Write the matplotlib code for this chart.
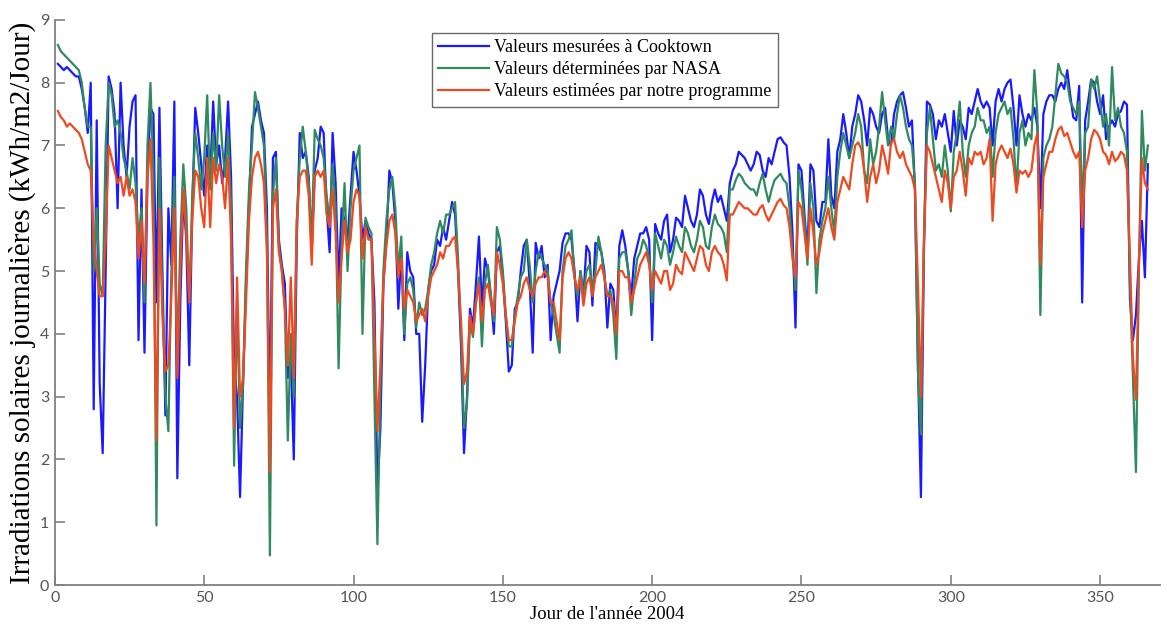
import matplotlib
matplotlib.use("Agg")
import matplotlib.pyplot as plt
import numpy as np

# Day of year 2004 (leap year)
days = np.arange(1, 367)

# Daily solar irradiation, kWh/m2/day
mesure_cooktown = [
    8.3, 8.25, 8.2, 8.25, 8.2, 8.15, 8.1, 8.1, 7.9, 7.6,          # 1-10
    7.2, 8.0, 2.8, 7.4, 3.2, 2.1, 5.0, 8.1, 7.9, 7.5,             # 11-20
    6.0, 8.0, 7.0, 6.5, 7.3, 7.7, 7.8, 3.9, 6.3, 3.7,             # 21-30
    6.5, 7.6, 7.5, 4.5, 7.6, 5.0, 2.7, 6.0, 5.1, 7.7,             # 31-40
    1.7, 4.5, 6.2, 5.5, 3.5, 6.0, 7.6, 7.2, 6.7, 6.2,             # 41-50
    7.0, 6.5, 7.7, 6.7, 7.0, 6.4, 6.8, 7.7, 6.5, 3.5,             # 51-60
    3.0, 1.4, 3.2, 4.8, 6.1, 7.3, 7.5, 7.7, 7.4, 7.2,             # 61-70
    6.0, 2.5, 6.8, 6.9, 5.5, 5.1, 4.8, 3.3, 3.6, 2.0,             # 71-80
    5.5, 7.2, 6.8, 6.9, 6.5, 5.3, 6.6, 6.8, 7.3, 7.2,             # 81-90
    6.0, 5.3, 7.2, 6.4, 4.8, 6.0, 5.8, 5.5, 6.2, 6.9,             # 91-100
    6.6, 6.2, 5.5, 5.8, 5.6, 5.5, 4.5, 1.5, 2.5, 4.8,             # 101-110
    5.5, 6.6, 6.4, 5.8, 4.4, 5.3, 3.9, 5.3, 5.0, 4.9,             # 111-120
    4.0, 4.0, 2.6, 3.5, 4.7, 5.0, 5.1, 5.5, 5.4, 5.7,             # 121-130
    5.5, 5.8, 6.1, 5.9, 5.0, 3.8, 2.1, 3.0, 4.4, 4.1,             # 131-140
    4.8, 5.55, 4.4, 5.2, 5.0, 4.6, 4.0, 5.3, 5.4, 4.9,            # 141-150
    4.2, 3.4, 3.5, 4.4, 4.5, 5.0, 5.4, 5.5, 4.8, 3.7,             # 151-160
    5.45, 5.2, 5.4, 4.9, 5.1, 3.9, 4.6, 4.8, 5.0, 5.45,           # 161-170
    5.6, 5.6, 5.5, 5.0, 4.2, 5.0, 4.6, 5.4, 5.3, 4.45,            # 171-180
    5.45, 5.4, 5.3, 5.0, 4.1, 4.8, 4.7, 4.0, 5.4, 5.65,           # 181-190
    5.4, 5.0, 4.6, 5.2, 5.4, 5.6, 5.6, 5.7, 5.5, 3.9,             # 191-200
    5.75, 5.6, 5.5, 5.8, 5.9, 5.3, 5.5, 5.85, 5.8, 5.7,           # 201-210
    6.2, 6.0, 5.8, 5.7, 5.9, 6.3, 6.2, 5.9, 5.75, 6.1,            # 211-220
    6.3, 6.1, 6.2, 6.0, 5.8, 6.4, 6.6, 6.7, 6.9, 6.85,            # 221-230
    6.8, 6.7, 6.6, 6.7, 6.9, 6.85, 6.6, 6.5, 6.8, 6.7,            # 231-240
    6.9, 7.1, 7.13, 7.05, 7.0, 6.5, 5.6, 4.1, 6.7, 6.6,           # 241-250
    5.9, 5.3, 6.7, 6.6, 5.8, 5.7, 6.1, 6.1, 7.1, 6.2,             # 251-260
    6.0, 6.9, 7.1, 7.5, 7.2, 6.8, 7.3, 7.5, 7.8, 7.7,             # 261-270
    7.4, 7.0, 7.6, 7.5, 7.3, 7.2, 7.5, 7.6, 7.1, 7.0,             # 271-280
    7.5, 7.7, 7.8, 7.85, 7.6, 7.3, 7.4, 6.3, 3.5, 1.4,            # 281-290
    5.3, 7.7, 7.65, 7.5, 7.1, 7.4, 7.3, 7.5, 7.2, 6.9,            # 291-300
    7.55, 7.0, 7.4, 7.3, 7.1, 7.6, 7.5, 7.7, 7.9, 7.7,            # 301-310
    7.6, 7.7, 7.6, 7.0, 7.7, 7.9, 7.7, 7.9, 8.0, 8.05,            # 311-320
    7.6, 7.0, 7.8, 7.5, 7.3, 7.5, 7.4, 7.6, 7.3, 6.0,             # 321-330
    7.5, 7.7, 7.8, 7.8, 7.7, 7.9, 8.0, 7.9, 8.2, 7.8,             # 331-340
    7.45, 7.4, 7.95, 4.5, 7.4, 7.7, 8.05, 8.0, 7.7, 7.5,          # 341-350
    7.8, 7.1, 7.3, 7.4, 7.3, 7.5, 7.55, 7.7, 7.65, 4.55,          # 351-360
    3.9, 4.3, 5.2, 5.8, 4.9, 6.7,                                 # 361-366
]

nasa = [
    8.6, 8.5, 8.45, 8.4, 8.35, 8.3, 8.25, 8.2, 8.0, 7.6,          # 1-10
    7.3, 7.3, 5.0, 6.0, 4.8, 4.6, 7.0, 8.0, 7.8, 7.3,             # 11-20
    7.4, 7.2, 6.8, 6.6, 6.3, 6.8, 6.4, 5.5, 6.0, 4.5,             # 21-30
    7.0, 8.0, 6.5, 0.95, 6.8, 4.5, 3.0, 2.45, 5.0, 6.5,           # 31-40
    3.5, 5.5, 6.7, 6.0, 4.5, 6.2, 7.2, 6.8, 6.3, 6.8,             # 41-50
    7.8, 6.3, 7.2, 6.6, 7.8, 7.0, 6.5, 7.2, 6.0, 1.9,             # 51-60
    4.5, 2.5, 3.2, 5.0, 6.3, 7.0, 7.85, 7.6, 7.3, 7.0,            # 61-70
    5.5, 0.47, 6.2, 6.8, 5.4, 5.0, 4.4, 2.3, 4.0, 3.0,            # 71-80
    5.8, 6.8, 7.3, 6.9, 6.4, 5.5, 7.25, 7.1, 7.0, 6.8,            # 81-90
    6.2, 5.8, 6.7, 6.0, 3.45, 5.4, 6.4, 5.0, 6.0, 6.6,            # 91-100
    6.8, 7.0, 4.0, 5.85, 5.7, 5.6, 3.0, 0.65, 3.2, 5.0,           # 101-110
    5.8, 6.3, 6.5, 6.0, 5.0, 5.55, 4.0, 4.8, 4.9, 4.7,            # 111-120
    4.1, 4.5, 4.3, 4.4, 4.7, 5.1, 5.3, 5.6, 5.8, 5.6,             # 121-130
    5.9, 5.9, 6.0, 6.1, 5.2, 4.0, 2.5, 2.9, 4.2, 3.95,            # 131-140
    4.5, 4.9, 3.8, 4.8, 5.1, 4.6, 4.2, 5.7, 5.5, 5.0,             # 141-150
    4.3, 3.8, 3.8, 4.3, 4.6, 4.9, 5.0, 5.5, 5.1, 4.5,             # 151-160
    5.0, 5.3, 5.2, 5.1, 5.0, 4.5, 4.3, 4.0, 3.7, 5.0,             # 161-170
    5.4, 5.5, 5.65, 4.9, 4.6, 5.0, 4.6, 5.0, 5.1, 4.7,            # 171-180
    5.0, 5.55, 5.3, 4.9, 4.6, 4.7, 4.3, 3.6, 5.2, 5.3,            # 181-190
    5.3, 5.0, 4.3, 4.8, 5.2, 5.3, 5.5, 5.4, 5.2, 4.5,             # 191-200
    5.6, 5.4, 5.2, 5.5, 5.4, 5.1, 5.3, 5.55, 5.4, 5.3,            # 201-210
    5.7, 5.6, 5.4, 5.3, 5.5, 5.8, 5.7, 5.4, 5.35, 5.7,            # 211-220
    5.9, 5.75, 5.7, 5.6, 5.3, 6.3, 6.3, 6.45, 6.55, 6.5,          # 221-230
    6.4, 6.35, 6.3, 6.3, 6.2, 6.4, 6.55, 6.3, 6.1, 6.3,           # 231-240
    6.45, 6.5, 6.55, 6.45, 6.4, 6.0, 5.3, 4.7, 6.6, 6.3,          # 241-250
    5.8, 5.1, 6.4, 6.0, 4.65, 5.5, 5.8, 6.0, 6.5, 6.0,            # 251-260
    5.6, 6.5, 6.9, 7.2, 7.0, 6.8, 7.0, 7.2, 7.5, 7.3,             # 261-270
    6.6, 6.4, 7.1, 6.7, 6.9, 7.3, 7.85, 7.4, 7.0, 7.3,            # 271-280
    7.1, 7.5, 7.8, 7.6, 7.3, 7.1, 7.0, 6.4, 3.4, 2.4,             # 281-290
    5.5, 7.2, 7.6, 7.1, 6.6, 6.7, 6.5, 7.0, 6.6, 5.95,            # 291-300
    6.9, 7.2, 7.7, 6.9, 6.5, 7.0, 7.2, 7.3, 7.6, 7.4,             # 301-310
    7.4, 7.2, 7.3, 6.5, 7.2, 7.5, 7.6, 7.7, 7.5, 7.6,             # 311-320
    7.1, 6.3, 7.2, 7.4, 7.0, 7.2, 7.1, 8.2, 7.5, 4.3,             # 321-330
    6.8, 7.0, 7.1, 7.3, 7.8, 8.3, 8.15, 8.1, 8.0, 7.7,            # 331-340
    7.6, 7.5, 7.7, 6.0, 7.2, 7.3, 8.05, 7.9, 8.1, 7.7,            # 341-350
    7.3, 7.5, 7.0, 8.25, 7.4, 7.6, 7.3, 7.2, 6.9, 4.8,            # 351-360
    3.3, 1.8, 5.0, 7.55, 6.6, 7.0,                                # 361-366
]

programme = [
    7.55, 7.45, 7.4, 7.3, 7.35, 7.3, 7.25, 7.2, 7.1, 6.9,         # 1-10
    6.7, 6.6, 5.5, 5.0, 4.6, 4.6, 5.5, 7.0, 6.8, 6.6,             # 11-20
    6.4, 6.5, 6.2, 6.5, 6.2, 6.3, 6.1, 5.2, 5.8, 4.8,             # 21-30
    6.5, 7.1, 5.5, 2.3, 6.0, 4.3, 3.4, 3.5, 4.6, 6.0,             # 31-40
    3.3, 5.0, 6.3, 5.6, 4.5, 5.8, 6.6, 6.5, 6.0, 5.7,             # 41-50
    6.8, 5.7, 6.8, 6.4, 6.7, 6.5, 6.0, 6.8, 5.5, 2.5,             # 51-60
    4.9, 3.0, 3.3, 4.5, 5.8, 6.5, 6.8, 6.9, 6.7, 6.4,             # 61-70
    5.3, 1.8, 6.0, 6.3, 5.3, 5.0, 4.4, 3.5, 4.9, 3.3,             # 71-80
    5.8, 6.5, 6.6, 6.6, 6.2, 5.1, 6.5, 6.6, 6.5, 6.6,             # 81-90
    5.9, 5.7, 6.3, 5.6, 4.5, 5.2, 5.8, 5.3, 5.5, 6.1,             # 91-100
    6.3, 6.2, 5.2, 5.7, 5.5, 5.5, 4.0, 2.45, 3.5, 4.8,            # 101-110
    5.4, 5.8, 5.9, 5.6, 4.9, 5.2, 4.4, 4.7, 4.6, 4.5,             # 111-120
    4.2, 4.3, 4.4, 4.2, 4.6, 4.9, 5.0, 5.1, 5.3, 5.2,             # 121-130
    5.4, 5.4, 5.5, 5.55, 5.0, 4.2, 3.2, 3.4, 4.3, 4.0,            # 131-140
    4.5, 4.8, 4.2, 4.7, 4.8, 4.5, 4.3, 5.3, 5.1, 4.8,             # 141-150
    4.3, 3.9, 3.9, 4.2, 4.5, 4.6, 4.8, 4.9, 4.7, 4.6,             # 151-160
    4.8, 4.9, 4.9, 5.0, 4.9, 4.5, 4.5, 4.2, 3.9, 4.9,             # 161-170
    5.2, 5.3, 5.2, 4.9, 4.7, 4.9, 4.45, 4.8, 4.9, 4.6,            # 171-180
    4.9, 5.0, 5.1, 4.9, 4.6, 4.6, 4.5, 4.0, 5.0, 5.0,             # 181-190
    4.9, 4.9, 4.5, 4.7, 4.9, 5.1, 5.2, 5.3, 5.1, 4.7,             # 191-200
    5.0, 4.9, 4.8, 5.0, 5.0, 4.7, 4.8, 5.1, 5.0, 4.95,            # 201-210
    5.3, 5.2, 5.1, 5.0, 5.2, 5.4, 5.35, 5.1, 5.0, 5.3,            # 211-220
    5.4, 5.3, 5.25, 5.1, 4.85, 5.9, 5.9, 6.0, 6.1, 6.05,          # 221-230
    6.0, 6.0, 5.95, 5.9, 5.9, 6.0, 6.05, 5.9, 5.8, 5.9,           # 231-240
    6.0, 6.1, 6.15, 6.05, 6.0, 5.7, 5.2, 4.9, 6.1, 6.0,           # 241-250
    5.6, 5.2, 6.0, 5.6, 5.1, 5.3, 5.6, 5.8, 6.0, 5.7,             # 251-260
    5.5, 6.1, 6.3, 6.5, 6.4, 6.3, 6.7, 7.0, 7.05, 6.95,           # 261-270
    6.6, 6.1, 6.5, 6.7, 6.4, 6.6, 7.0, 6.8, 6.55, 7.05,           # 271-280
    7.1, 6.9, 6.8, 6.9, 6.7, 6.6, 6.5, 6.3, 4.8, 3.0,             # 281-290
    5.4, 7.0, 6.9, 6.7, 6.5, 6.3, 6.1, 6.6, 6.4, 6.0,             # 291-300
    6.5, 6.6, 6.9, 6.6, 6.2, 6.8, 6.7, 6.9, 6.85, 6.9,            # 301-310
    6.7, 6.8, 7.1, 5.8, 6.7, 6.9, 7.0, 6.9, 6.8, 6.95,            # 311-320
    6.7, 6.25, 6.6, 6.55, 6.6, 6.5, 6.6, 7.0, 7.2, 5.1,           # 321-330
    6.5, 6.7, 6.9, 6.9, 7.1, 7.25, 7.3, 7.15, 7.2, 7.05,          # 331-340
    6.9, 6.8, 6.9, 5.7, 6.6, 6.8, 7.1, 7.25, 7.2, 7.1,            # 341-350
    6.9, 6.85, 6.7, 6.9, 6.75, 6.8, 6.9, 6.85, 6.6, 5.2,          # 351-360
    3.6, 2.95, 5.1, 6.8, 6.4, 6.3,                                # 361-366
]

x_ticks = [0, 50, 100, 150, 200, 250, 300, 350]
y_ticks = list(range(10))

fig = plt.figure(figsize=(11.68, 6.30), dpi=100)
ax = fig.add_axes([0.047, 0.0714, 0.946, 0.897])

ax.plot(days, mesure_cooktown, color="#1a1aff", lw=1.6,
        label="Valeurs mesurées à Cooktown")
ax.plot(days, nasa, color="#2f8a5e", lw=1.6,
        label="Valeurs déterminées par NASA")
ax.plot(days, programme, color="#ee4a22", lw=1.6,
        label="Valeurs estimées par notre programme")

ax.set_xlim(0, 370)
ax.set_ylim(0, 9)
ax.set_xticks(x_ticks)
ax.set_yticks(y_ticks)

for side in ("top", "right"):
    ax.spines[side].set_visible(False)
for side in ("left", "bottom"):
    ax.spines[side].set_color("#808080")
    ax.spines[side].set_linewidth(1.3)

ax.tick_params(direction="in", length=7, width=1.2, color="#808080",
               labelcolor="#555555", labelsize=11.5, pad=4)
for lab in ax.get_xticklabels() + ax.get_yticklabels():
    lab.set_fontfamily("Lato")

ax.set_xlabel("Jour de l'année 2004", fontfamily="Liberation Serif",
              fontsize=13.5, labelpad=1)
ax.set_ylabel("Irradiations solaires journalières (kWh/m2/Jour)",
              fontfamily="Liberation Serif", fontsize=21, labelpad=3)

leg = ax.legend(loc="upper left", bbox_to_anchor=(0.341, 0.977),
                prop={"family": "Liberation Serif", "size": 13},
                frameon=True, fancybox=False, shadow=False,
                handlelength=2.8, handletextpad=0.3, labelspacing=0.28,
                borderpad=0.35, borderaxespad=0.0)
leg.get_frame().set_edgecolor("#444444")
leg.get_frame().set_linewidth(1.0)

fig.savefig("out.png", dpi=100)
